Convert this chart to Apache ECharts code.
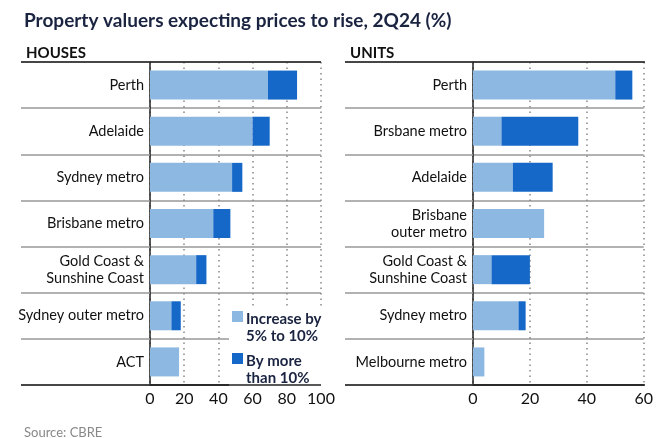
<!DOCTYPE html>
<html><head><meta charset="utf-8">
<script src="https://cdn.jsdelivr.net/npm/echarts@6/dist/echarts.min.js"></script>
<style>html,body{margin:0;padding:0;background:#fff}#c{width:656px;height:438px}</style>
</head><body><div id="c"></div>
<script>
const houseCats = ['Perth','Adelaide','Sydney metro','Brisbane metro','Gold Coast &\nSunshine Coast','Sydney outer metro','ACT'];
const houseLow  = [69, 60, 48, 37, 27, 12.5, 17];
const houseHigh = [17, 10, 6, 10, 6, 5.5, 0];
const unitCats  = ['Perth','Brsbane metro','Adelaide','Brisbane\nouter metro','Gold Coast &\nSunshine Coast','Sydney metro','Melbourne metro'];
const unitLow   = [50, 10, 14, 25, 6.5, 16, 4];
const unitHigh  = [6, 27, 14, 0, 13.5, 2.5, 0];
const houseTicks = [0, 20, 40, 60, 80, 100];
const unitTicks  = [0, 20, 40, 60];
const nameLow = 'Increase by\n5% to 10%';
const nameHigh = 'By more\nthan 10%';

const FONT = 'Lato';
const LIGHT = '#8cb8e2', DARK = '#1668c8';
const chart = echarts.init(document.getElementById('c'), null, {renderer:'canvas'});

function catAxis(idx, cats, tickLen){
  return {
    type:'category', gridIndex: idx, data: cats, inverse: true,
    axisLine:{show:true, lineStyle:{color:'#222', width:1.5}},
    axisTick:{show:true, length: tickLen, interval:0, lineStyle:{color:'#999', width:1.5}},
    splitLine:{show:true, interval:0, lineStyle:{color:'#999', width:1.5}},
    axisLabel:{color:'#111', fontFamily:FONT, fontSize:14.5, margin:6, lineHeight:17, interval:0}
  };
}
function valAxis(idx, ticks){
  return {
    type:'value', gridIndex: idx, min: ticks[0], max: ticks[ticks.length-1], interval: 20,
    axisLine:{show:true, lineStyle:{color:'#222', width:1.5}},
    axisTick:{show:false},
    splitLine:{show:true, lineStyle:{color:'#888', width:1.5, type:[1.5,4]}},
    axisLabel:{color:'#111', fontFamily:FONT, fontSize:16, margin:6,
      formatter: v => ticks.indexOf(v) >= 0 ? String(v) : ''}
  };
}
const barBase = {type:'bar', stack:'s', barWidth:29, silent:true};
chart.setOption({
  animation:false,
  textStyle:{fontFamily:FONT},
  title:[
    {text:'Property valuers expecting prices to rise, 2Q24 (%)', left:19, top:6,
      textStyle:{fontFamily:FONT, fontSize:19, fontWeight:'bold', color:'#1a2340'}},
    {text:'HOUSES', left:21, top:41, textStyle:{fontFamily:FONT, fontSize:15, fontWeight:'bold', color:'#111'}},
    {text:'UNITS', left:345, top:41, textStyle:{fontFamily:FONT, fontSize:15, fontWeight:'bold', color:'#111'}},
    {text:'Source: CBRE', left:19, top:421, textStyle:{fontFamily:FONT, fontSize:13, fontWeight:'normal', color:'#888'}}
  ],
  legend:{
    left:229, top:308, orient:'vertical', backgroundColor:'#fff', padding:[3,2,3,3],
    itemGap:8, itemWidth:11, itemHeight:34, symbolKeepAspect:true,
    icon:'path://M0,0h11v11h-11z M0,34h0.01v0.01z',
    data:[nameLow, nameHigh],
    textStyle:{fontFamily:FONT, fontSize:15, fontWeight:'bold', color:'#1a2340', lineHeight:17, padding:[0,0,0,-2]}
  },
  grid:[
    {left:150, right:335, top:62, bottom:53},
    {left:473, right:11, top:62, bottom:53}
  ],
  yAxis:[catAxis(0, houseCats, 129), catAxis(1, unitCats, 128)],
  xAxis:[valAxis(0, houseTicks), valAxis(1, unitTicks)],
  series:[
    Object.assign({}, barBase, {name:nameLow, xAxisIndex:0, yAxisIndex:0, data:houseLow, itemStyle:{color:LIGHT}}),
    Object.assign({}, barBase, {name:nameHigh, xAxisIndex:0, yAxisIndex:0, data:houseHigh, itemStyle:{color:DARK}}),
    Object.assign({}, barBase, {name:nameLow, xAxisIndex:1, yAxisIndex:1, stack:'u', data:unitLow, itemStyle:{color:LIGHT}}),
    Object.assign({}, barBase, {name:nameHigh, xAxisIndex:1, yAxisIndex:1, stack:'u', data:unitHigh, itemStyle:{color:DARK}})
  ],
  graphic:[
    {type:'line', shape:{x1:21, y1:62, x2:321, y2:62}, style:{stroke:'#222', lineWidth:1.5}, z:100},
    {type:'line', shape:{x1:21, y1:385, x2:321, y2:385}, style:{stroke:'#222', lineWidth:1.5}, z:100},
    {type:'line', shape:{x1:345, y1:62, x2:645, y2:62}, style:{stroke:'#222', lineWidth:1.5}, z:100},
    {type:'line', shape:{x1:345, y1:385, x2:645, y2:385}, style:{stroke:'#222', lineWidth:1.5}, z:100}
  ]
});
</script></body></html>
